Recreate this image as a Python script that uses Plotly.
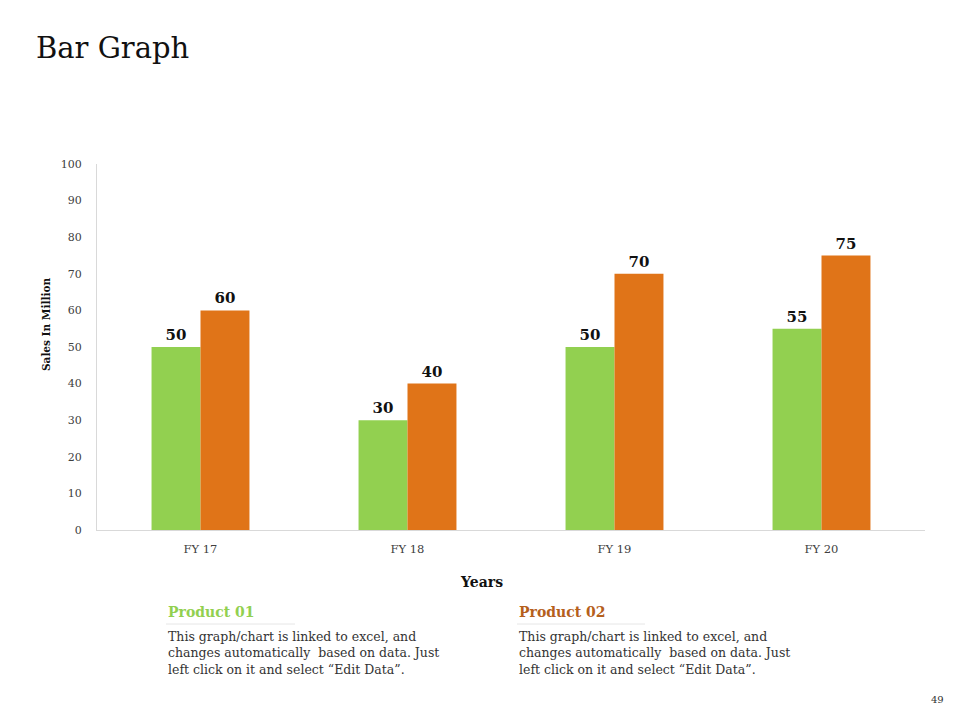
import plotly.graph_objects as go

categories = ["FY 17", "FY 18", "FY 19", "FY 20"]
product_01 = [50, 30, 50, 55]
product_02 = [60, 40, 70, 75]
y_ticks = [0, 10, 20, 30, 40, 50, 60, 70, 80, 90, 100]

GREEN = "#92D050"
ORANGE = "#E07418"
SERIF = "DejaVu Serif"

fig = go.Figure()
for vals, col in [(product_01, GREEN), (product_02, ORANGE)]:
    fig.add_trace(go.Bar(x=categories, y=vals, marker=dict(color=col, line=dict(width=0)),
                         text=[f"<b>{v}</b>" for v in vals], textposition="outside",
                         textfont=dict(family=SERIF, size=15, color="#111111"), cliponaxis=False))

fig.update_layout(
    width=960, height=720,
    paper_bgcolor="white", plot_bgcolor="white",
    margin=dict(l=97, r=35, t=164, b=190),
    barmode="group", bargap=0.527, bargroupgap=0,
    showlegend=False,
    font=dict(family=SERIF, color="#404040"),
    xaxis=dict(showline=True, linecolor="#D9D9D9", linewidth=1, ticks="",
               tickfont=dict(family=SERIF, size=11.5, color="#404040"), ticklabelstandoff=8),
    yaxis=dict(range=[0, 100], tickvals=y_ticks, showgrid=False, zeroline=False,
               showline=True, linecolor="#D9D9D9", linewidth=1, ticks="",
               tickfont=dict(family=SERIF, size=11, color="#404040"), ticklabelstandoff=12),
)

body = ("This graph/chart is linked to excel, and<br>changes automatically  based on data. Just<br>"
        "left click on it and select \u201cEdit Data\u201d.")
anns = [
    dict(text="Bar Graph", x=34, y=48, font=dict(family=SERIF, size=29, color="#111111"), xanchor="left"),
    dict(text="<b>Years</b>", x=481, y=582, font=dict(family=SERIF, size=14, color="#111111"), xanchor="center"),
    dict(text="<b>Product 01</b>", x=166, y=612, font=dict(family=SERIF, size=14, color=GREEN), xanchor="left"),
    dict(text="<b>Product 02</b>", x=517, y=612, font=dict(family=SERIF, size=14, color="#B5601C"), xanchor="left"),
    dict(text=body, x=166, y=653, font=dict(family=SERIF, size=12.5, color="#333333"), xanchor="left", align="left"),
    dict(text=body, x=517, y=653, font=dict(family=SERIF, size=12.5, color="#333333"), xanchor="left", align="left"),
    dict(text="49", x=937, y=699, font=dict(family=SERIF, size=10, color="#333333"), xanchor="center"),
    dict(text="<b>Sales In Million</b>", x=46, y=325, font=dict(family=SERIF, size=10.5, color="#111111"),
         xanchor="center", textangle=-90),
]
for a in anns:
    fig.add_annotation(xref="paper", yref="paper", showarrow=False, yanchor="middle",
                       **{k: v for k, v in a.items() if k not in ("x", "y")},
                       x=(a["x"] - 97) / (960 - 97 - 35), y=(530 - a["y"]) / (530 - 164))

for x0, x1 in [(166, 295), (517, 645)]:
    fig.add_shape(type="line", xref="paper", yref="paper",
                  x0=(x0 - 97) / 828, x1=(x1 - 97) / 828,
                  y0=(530 - 624) / 366, y1=(530 - 624) / 366,
                  line=dict(color="#E6E6E6", width=1))

fig.write_html("out.html")
